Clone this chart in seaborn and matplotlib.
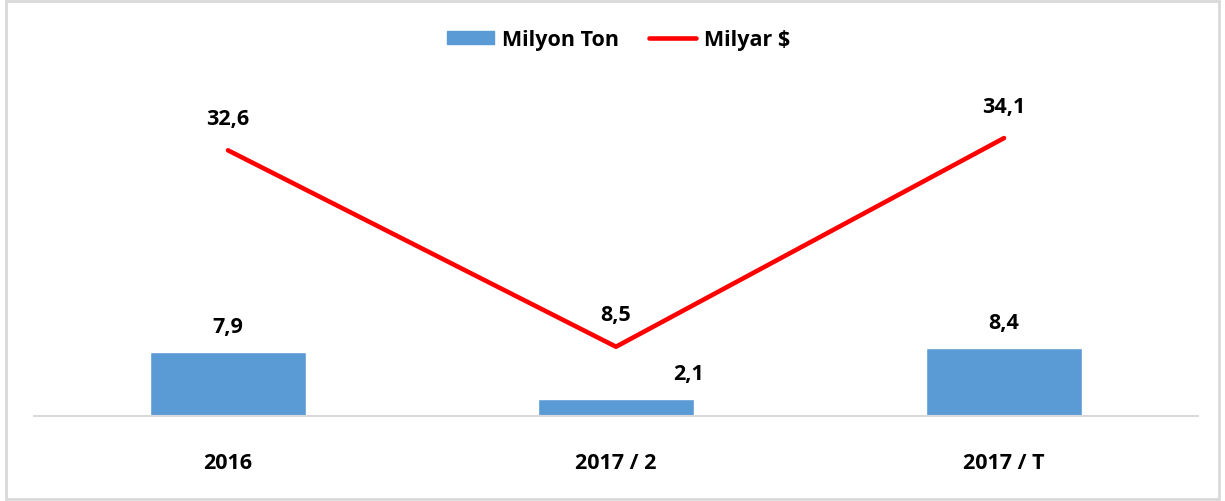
import seaborn as sns
import matplotlib.pyplot as plt
import matplotlib.patches as mpatches
import numpy as np
import pandas as pd

# Data
years = ["2016", "2017 / 2", "2017 / T"]
milyon_ton = [7.9, 2.1, 8.4]
milyar_usd = [32.6, 8.5, 34.1]
ton_labels = ["7,9", "2,1", "8,4"]
usd_labels = ["32,6", "8,5", "34,1"]

sns.set_theme(style="white")
plt.rcParams['font.family'] = ['Open Sans', 'DejaVu Sans']
plt.rcParams['text.color'] = 'black'
plt.rcParams['xtick.color'] = 'black'

df = pd.DataFrame({"Yil": years, "Milyon Ton": milyon_ton, "Milyar $": milyar_usd})

fig = plt.figure(figsize=(12.25, 5.02), dpi=100)
ax = fig.add_axes([34 / 1225, 85 / 502, 1164 / 1225, 326 / 502])

bar_color = "#5b9bd5"
line_color = "#ff0000"
fs = 15.5

sns.barplot(data=df, x="Yil", y="Milyon Ton", color=bar_color, width=0.4,
            saturation=1, ax=ax)
sns.lineplot(x=np.arange(len(years)), y=df["Milyar $"], color=line_color,
             linewidth=3.3, ax=ax)

ax.set_xlim(-0.5, len(years) - 0.5)
ax.set_ylim(0, 40)

# Bar labels
for i, (v, lab) in enumerate(zip(milyon_ton, ton_labels)):
    dx = 52 if v < 5 else 0
    ax.annotate(lab, (i, v), xytext=(dx, 18), textcoords="offset points",
                ha="center", va="center", fontsize=fs, fontweight="bold",
                color="black")

# Line labels
for i, (v, lab) in enumerate(zip(milyar_usd, usd_labels)):
    ax.annotate(lab, (i, v), xytext=(0, 23), textcoords="offset points",
                ha="center", va="center", fontsize=fs, fontweight="bold",
                color="black")

ax.set_xlabel("")
ax.set_ylabel("")
ax.set_yticks([])
for s in ["top", "left", "right"]:
    ax.spines[s].set_visible(False)
ax.spines["bottom"].set_color("#d9d9d9")
ax.spines["bottom"].set_linewidth(1.5)
ax.tick_params(axis="x", length=0, pad=26, labelcolor="black")
for t in ax.get_xticklabels():
    t.set_fontsize(fs)
    t.set_fontweight("bold")

handles = [mpatches.Patch(color=bar_color, label="Milyon Ton"),
           plt.Line2D([], [], color=line_color, linewidth=3.3, label="Milyar $")]
fig.legend(handles=handles, loc="center", bbox_to_anchor=(0.505, 0.92), ncol=2,
           frameon=False, prop={"weight": "bold", "size": fs},
           handlelength=2.2, handleheight=0.55, columnspacing=1.4,
           handletextpad=0.35, labelcolor="black")

# Outer border
fig.patches.append(mpatches.Rectangle((0.005, 0.004), 0.99, 0.992,
                                      transform=fig.transFigure, fill=False,
                                      edgecolor="#d9d9d9", linewidth=2))

fig.savefig("out.png", dpi=100)
